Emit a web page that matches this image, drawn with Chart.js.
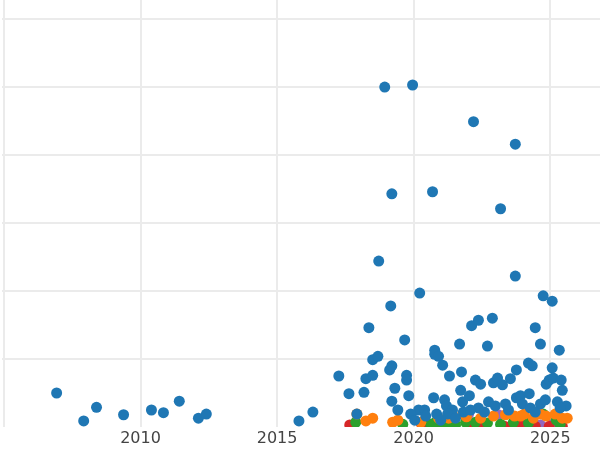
<!DOCTYPE html>
<html><head><meta charset="utf-8">
<script src="https://cdn.jsdelivr.net/npm/chart.js@4"></script>
<style>html,body{margin:0;padding:0;background:#fff}#w{width:600px;height:450px}</style>
</head><body><div id="w"><canvas id="c"></canvas></div>
<script>
const blueX=[2006.93,2007.92,2008.39,2009.38,2010.40,2010.84,2011.42,2012.12,2012.41,2015.80,2016.31,2017.26,2017.63,2017.92,2018.18,2018.25,2018.36,2018.50,2018.50,2018.69,2018.72,2018.94,2019.12,2019.16,2019.20,2019.20,2019.31,2019.20,2019.42,2019.67,2019.74,2019.74,2019.82,2019.96,2020.22,2020.18,2019.89,2020.40,2020.69,2020.73,2020.77,2020.77,2020.91,2021.06,2021.13,2021.20,2021.31,2021.42,2021.68,2021.75,2021.72,2021.79,2022.04,2022.12,2022.19,2022.26,2022.37,2022.45,2022.70,2022.74,2022.88,2022.92,2023.07,2023.18,2023.25,2023.36,2023.54,2023.72,2023.72,2023.76,2023.76,2023.91,2023.98,2024.20,2024.23,2024.34,2024.45,2024.64,2024.74,2024.85,2024.96,2025.07,2025.07,2025.11,2025.26,2025.33,2025.40,2025.44,2025.58,2025.36,2020.04,2020.44,2020.84,2021.24,2021.82,2022.37,2022.99,2023.47,2024.27,2024.64,2024.82,2024.45,2022.59,2022.08,2021.53,2020.99];
const blueY=[0.50,0.09,0.29,0.18,0.25,0.21,0.38,0.13,0.19,0.09,0.22,0.75,0.49,0.19,0.51,0.71,1.46,0.99,0.76,1.04,2.44,5.00,0.84,1.78,3.43,0.90,0.57,0.38,0.25,1.28,0.76,0.69,0.46,5.03,1.97,0.25,0.19,0.25,3.46,0.43,1.13,1.07,1.04,0.91,0.40,0.31,0.75,0.25,1.22,0.81,0.54,0.37,0.46,1.49,4.49,0.69,1.57,0.63,1.19,0.37,1.60,0.65,0.72,3.21,0.62,0.34,0.71,2.22,4.16,0.84,0.43,0.46,0.34,0.94,0.49,0.90,1.46,1.22,1.93,0.63,0.69,1.85,0.87,0.72,0.37,1.13,0.69,0.54,0.31,0.28,0.10,0.16,0.19,0.19,0.22,0.28,0.31,0.25,0.28,0.34,0.40,0.22,0.22,0.25,0.13,0.10];
const orangeX=[2017.92,2018.25,2018.50,2019.23,2019.42,2020.26,2020.91,2021.28,2021.79,2021.93,2022.45,2022.92,2023.36,2023.69,2023.91,2024.05,2024.38,2024.64,2024.85,2025.18,2025.44,2025.62];
const orangeY=[0.19,0.09,0.13,0.07,0.10,0.07,0.13,0.13,0.19,0.15,0.13,0.16,0.18,0.16,0.16,0.19,0.13,0.19,0.16,0.19,0.13,0.13];
const greenX=[2017.88,2019.60,2020.62,2020.80,2021.02,2021.28,2021.53,2021.90,2022.26,2022.70,2023.18,2023.65,2024.20,2024.74,2025.22,2025.36];
const greenY=[0.07,0.04,0.04,0.07,0.07,0.06,0.03,0.07,0.07,0.06,0.04,0.07,0.06,0.19,0.10,0.04];
const redX=[2017.66,2020.26,2020.40,2021.20,2022.01,2022.45,2023.32,2023.54,2023.76,2023.91,2024.45,2024.96,2025.44];
const redY=[0.03,0.06,0.06,0.03,0.01,0.01,0.01,0.01,0.04,0.04,0.01,0.01,0.01];
const purpleX=[2022.01,2023.10,2024.12,2024.64,2025.07];
const purpleY=[0.19,0.18,0.03,0.03,0.04];
const xTicks=[2005,2010,2015,2020,2025];

const zip=(xs,ys)=>xs.map((x,i)=>({x,y:ys[i]}));
const ds=(xs,ys,c)=>({data:zip(xs,ys),backgroundColor:c,borderWidth:0,pointRadius:5.5,pointHoverRadius:5.5});
new Chart(document.getElementById('c'),{
 type:'scatter',
 data:{datasets:[ds(blueX,blueY,'#1f77b4'),ds(orangeX,orangeY,'#ff7f0e'),ds(greenX,greenY,'#2ca02c'),ds(redX,redY,'#d62728'),ds(purpleX,purpleY,'#9467bd')]},
 options:{responsive:true,maintainAspectRatio:false,animation:false,
  layout:{autoPadding:false,padding:0},
  plugins:{legend:{display:false},tooltip:{enabled:false}},
  scales:{
   x:{type:'linear',min:2004.93,max:2026.82,
      afterBuildTicks:a=>{a.ticks=xTicks.map(v=>({value:v}));},
      afterFit:a=>{a.height=23;},
      ticks:{color:'#444',font:{family:'DejaVu Sans',size:16},padding:2,callback:v=>v===2005?'':String(v),maxRotation:0},
      grid:{color:'#ebebeb',lineWidth:2,drawTicks:false},border:{display:false}},
   y:{min:0,max:6.28,
      afterBuildTicks:a=>{a.ticks=[1,2,3,4,5,6].map(v=>({value:v}));},
      afterFit:a=>{a.width=2;},
      ticks:{display:false},
      grid:{color:'#ebebeb',lineWidth:2,drawTicks:false},border:{display:false}}
  }}
});
</script></body></html>
